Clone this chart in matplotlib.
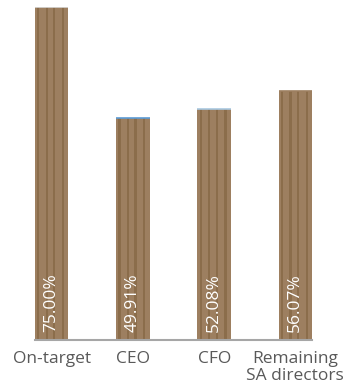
import matplotlib
matplotlib.use("Agg")
import matplotlib.pyplot as plt

categories = ["On-target", "CEO", "CFO", "Remaining\nSA directors"]
values = [75.00, 49.91, 52.08, 56.07]
labels = ["75.00%", "49.91%", "52.08%", "56.07%"]
top_colors = ["#d8d8d8", "#5b9bd5", "#a9c8e0", "#9d7f60"]

plt.rcParams['font.family'] = ['Open Sans', 'DejaVu Sans']

fig = plt.figure(figsize=(3.48, 3.90), dpi=100)
ax = fig.add_axes([0.1006, 0.1282, 0.796, 0.854])

x = list(range(len(values)))
w = 0.41
ax.bar(x, values, width=w, color='#9d7f60', linewidth=0)

# darker vertical stripes inside each bar (wood-like texture)
stripe_pos = [-0.40, -0.15, 0.08, 0.34]
for off in stripe_pos:
    ax.bar([i + off * w for i in x], values, width=0.028, color='#8b6d4b',
           linewidth=0)

# thin coloured cap on top of each bar
for i, v in enumerate(values):
    ax.hlines(v, i - w/2, i + w/2, color=top_colors[i], lw=1.2)

for i, v in enumerate(values):
    ax.text(i, 1.8, labels[i], rotation=90, ha='center', va='bottom',
            color='white', fontsize=12.5)

ax.set_xlim(-w/2, 3 + w/2)
ax.set_ylim(0, 75)
ax.set_xticks(x)
ax.set_xticklabels(categories, color='#595959', fontsize=12.5,
                   linespacing=1.05)
ax.tick_params(axis='x', length=0, pad=8)
ax.set_yticks([])
for s in ['top', 'right', 'left']:
    ax.spines[s].set_visible(False)
ax.spines['bottom'].set_color('#a6a6a6')
ax.spines['bottom'].set_linewidth(1.5)

fig.savefig('out.png', dpi=100)
